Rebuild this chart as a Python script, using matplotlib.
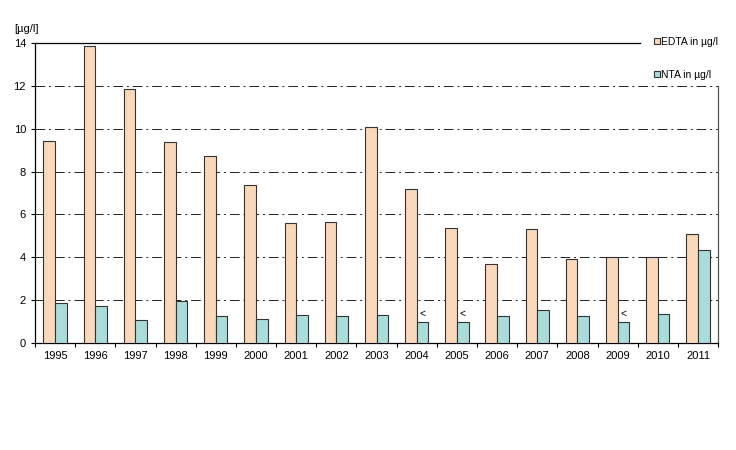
import numpy as np
import matplotlib.pyplot as plt

plt.rcParams["font.family"] = ["Liberation Sans", "DejaVu Sans"]

years = ["1995", "1996", "1997", "1998", "1999", "2000", "2001", "2002", "2003",
         "2004", "2005", "2006", "2007", "2008", "2009", "2010", "2011"]
edta = [9.45, 13.85, 11.85, 9.38, 8.72, 7.37, 5.6, 5.63, 10.08,
        7.17, 5.37, 3.7, 5.32, 3.92, 4.0, 4.0, 5.07]
nta = [1.88, 1.73, 1.05, 1.97, 1.28, 1.1, 1.3, 1.25, 1.32,
       1.0, 1.0, 1.25, 1.52, 1.28, 1.0, 1.37, 4.33]
below_limit = [False, False, False, False, False, False, False, False, False,
               True, True, False, False, False, True, False, False]

fig = plt.figure(figsize=(7.36, 4.5), dpi=100)
ax = fig.add_axes([0.0476, 0.2378, 0.928, 0.6666])

x = np.arange(len(years))
w = 0.29
ax.bar(x - w / 2, edta, w, color="#F9D9B9", edgecolor="#333333", linewidth=0.8,
       label="EDTA in µg/l", zorder=3)
ax.bar(x + w / 2, nta, w, color="#A9DDDB", edgecolor="#333333", linewidth=0.8,
       label="NTA in µg/l", zorder=3)

for xi, v, flag in zip(x, nta, below_limit):
    if flag:
        ax.text(xi + w / 2, v + 0.15, "<", ha="center", va="bottom", fontsize=7.5)

ax.set_xlim(-0.5, len(years) - 0.5)
ax.set_ylim(0, 14)
ax.set_yticks(range(0, 15, 2))
ax.set_xticks(x)
ax.set_xticklabels(years, fontsize=8)
ax.tick_params(axis="y", labelsize=8, length=3, width=0.8)
ax.set_xticks(np.arange(-0.5, len(years), 1), minor=True)
ax.tick_params(axis="x", which="major", length=0, pad=6)
ax.tick_params(axis="x", which="minor", length=3, width=0.8)

for yv in range(2, 14, 2):
    ax.axhline(yv, color="#222222", linestyle=(0, (10, 4, 2, 4)), linewidth=0.7, zorder=1)

ax.spines["top"].set_bounds(-0.5, 14.55)
ax.spines["right"].set_bounds(0, 12)
for s in ax.spines.values():
    s.set_linewidth(0.9)
ax.spines["right"].set_color("#555555")

fig.text(0.019, 0.93, "[µg/l]", fontsize=8)

ax.legend(loc="upper left", bbox_to_anchor=(0.9, 1.035), frameon=False,
          fontsize=7.5, handlelength=0.6, handleheight=0.6, handletextpad=0.1,
          labelspacing=2.2, borderaxespad=0)

fig.savefig("out.png", dpi=100)
